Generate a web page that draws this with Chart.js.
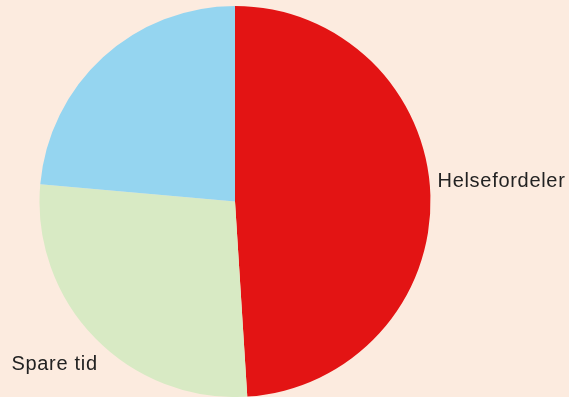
<!DOCTYPE html>
<html>
<head>
<meta charset="utf-8">
<script src="https://cdn.jsdelivr.net/npm/chart.js@4"></script>
<style>
    html, body { margin: 0; padding: 0; background: #fcebdf; }
    #wrap { width: 569px; height: 397px; position: relative; }
</style>
</head>
<body>
<div id="wrap"><canvas id="pie"></canvas></div>
<script>
// values (share of the circle, %)
const categories = ['Helsefordeler', 'Spare tid', ''];
const shares = [49, 27.4, 23.6];
const sliceColors = ['#e31414', '#d8eac4', '#95d5f0'];

// draws the slice names next to the pie
const sliceLabels = {
    id: 'sliceLabels',
    afterDatasetsDraw(chart) {
        const ctx = chart.ctx;
        const arcs = chart.getDatasetMeta(0).data;
        ctx.save();
        ctx.fillStyle = '#222';
        ctx.font = '20px "Liberation Sans", Arial, sans-serif';
        ctx.letterSpacing = '0.7px';
        ctx.textBaseline = 'alphabetic';

        // Helsefordeler: just outside the right edge of the red slice
        const red = arcs[0];
        ctx.textAlign = 'left';
        ctx.fillText(categories[0], red.x + red.outerRadius + 7, red.y - 15);

        // Spare tid: below-left of the green slice
        const green = arcs[1];
        const d = Math.cos(Math.PI / 4) * green.outerRadius;
        ctx.textAlign = 'right';
        ctx.fillText(categories[1], green.x - d + 1, green.y + d + 30);
        ctx.restore();
    }
};

new Chart(document.getElementById('pie'), {
    type: 'pie',
    data: {
        labels: categories,
        datasets: [{
            data: shares,
            backgroundColor: sliceColors,
            borderWidth: 0
        }]
    },
    options: {
        responsive: true,
        maintainAspectRatio: false,
        animation: false,
        layout: { padding: { left: 39, right: 138, top: 6, bottom: 0 } },
        plugins: {
            legend: { display: false },
            tooltip: { enabled: false }
        }
    },
    plugins: [sliceLabels]
});
</script>
</body>
</html>
